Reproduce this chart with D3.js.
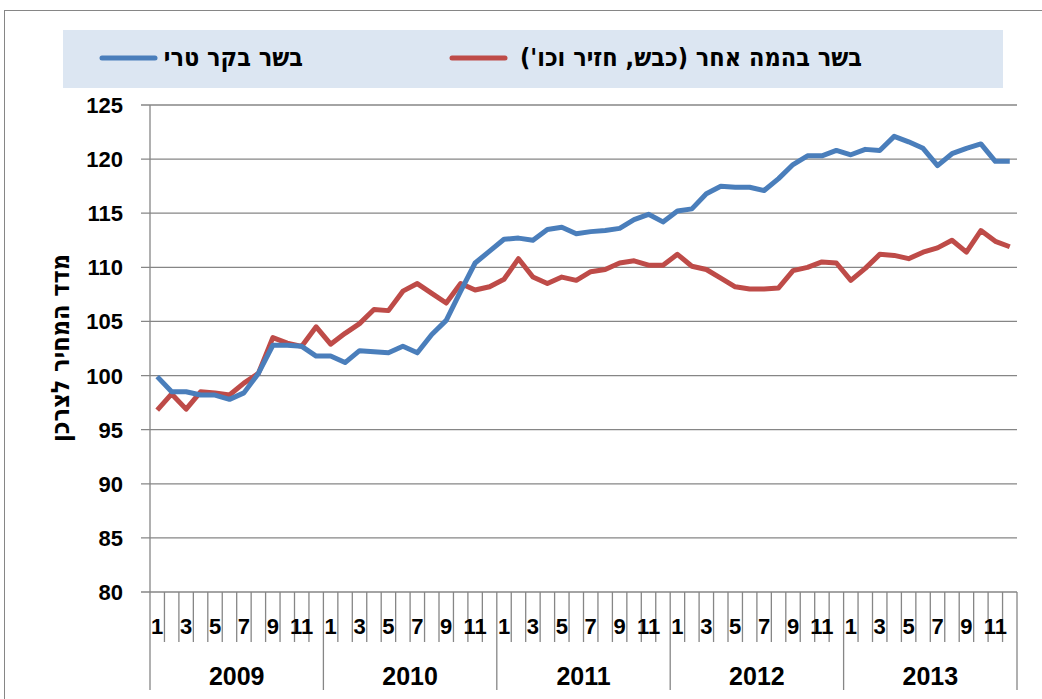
<html>
<head>
<meta charset="utf-8">
<script src="https://d3js.org/d3.v7.min.js"></script>
<style>
  body { margin: 0; background: #fff; }
  text { font-family: "Liberation Sans", Arial, sans-serif; font-weight: bold; fill: #000; }
  text.heb { font-family: "DejaVu Sans Condensed", "DejaVu Sans", sans-serif; font-stretch: condensed; }
</style>
</head>
<body>
<script>
// monthly CPI index, Jan 2009 .. Dec 2013
var years = ["2009", "2010", "2011", "2012", "2013"];
var monthLabels = ["1", "", "3", "", "5", "", "7", "", "9", "", "11", ""];
var yTicks = [80, 85, 90, 95, 100, 105, 110, 115, 120, 125];

var beef = [
  99.9, 98.5, 98.5, 98.2, 98.2, 97.8, 98.4, 100.2, 102.8, 102.8, 102.7, 101.8,
  101.8, 101.2, 102.3, 102.2, 102.1, 102.7, 102.1, 103.8, 105.1, 107.8, 110.4, 111.5,
  112.6, 112.7, 112.5, 113.5, 113.7, 113.1, 113.3, 113.4, 113.6, 114.4, 114.9, 114.2,
  115.2, 115.4, 116.8, 117.5, 117.4, 117.4, 117.1, 118.2, 119.5, 120.3, 120.3, 120.8,
  120.4, 120.9, 120.8, 122.1, 121.6, 121.0, 119.4, 120.5, 121.0, 121.4, 119.8, 119.8
];
var otherMeat = [
  96.8, 98.3, 96.9, 98.5, 98.4, 98.2, 99.3, 100.2, 103.5, 103.0, 102.7, 104.5,
  102.9, 103.9, 104.8, 106.1, 106.0, 107.8, 108.5, 107.6, 106.7, 108.5, 107.9, 108.2,
  108.9, 110.8, 109.1, 108.5, 109.1, 108.8, 109.6, 109.8, 110.4, 110.6, 110.2, 110.2,
  111.2, 110.1, 109.8, 109.0, 108.2, 108.0, 108.0, 108.1, 109.7, 110.0, 110.5, 110.4,
  108.8, 109.9, 111.2, 111.1, 110.8, 111.4, 111.8, 112.5, 111.4, 113.4, 112.4, 111.9
];
var seriesNames = ["בשר בקר טרי", "בשר בהמה אחר (כבש, חזיר וכו')"];
var seriesColors = ["#4a7ebb", "#be4b48"];
var yTitle = "מדד המחיר לצרכן";

var width = 1042, height = 699;
var mLeft = 150, mRight = 1017, mTop = 105, mBottom = 592;
var gridColor = "#868686";

var svg = d3.select("body").append("svg")
  .attr("width", width)
  .attr("height", height);

// outer chart frame
svg.append("rect")
  .attr("x", 4.5).attr("y", 10.5)
  .attr("width", 1200).attr("height", 900)
  .attr("fill", "#fff")
  .attr("stroke", gridColor);

var n = beef.length;
var x = d3.scaleBand().domain(d3.range(n)).range([mLeft, mRight]);
var y = d3.scaleLinear().domain([80, 125]).range([mBottom, mTop]);
var cx = function (i) { return x(i) + x.bandwidth() / 2; };

// gridlines
svg.append("g").selectAll("line")
  .data(yTicks)
  .enter().append("line")
  .attr("x1", mLeft - 9).attr("x2", mRight)
  .attr("y1", function (d) { return y(d); })
  .attr("y2", function (d) { return y(d); })
  .attr("stroke", gridColor)
  .attr("stroke-width", 1.3);

svg.append("line")
  .attr("x1", mLeft).attr("x2", mLeft)
  .attr("y1", mTop).attr("y2", mBottom)
  .attr("stroke", gridColor).attr("stroke-width", 1.3);

svg.append("g").selectAll("text")
  .data(yTicks)
  .enter().append("text")
  .attr("x", 123)
  .attr("y", function (d) { return y(d) + 8; })
  .attr("text-anchor", "end")
  .style("font-size", "22px")
  .text(function (d) { return d; });

// month ticks and year separators
var bounds = d3.range(n + 1);
svg.append("g").selectAll("line")
  .data(bounds)
  .enter().append("line")
  .attr("x1", function (i) { return mLeft + i * x.step(); })
  .attr("x2", function (i) { return mLeft + i * x.step(); })
  .attr("y1", mBottom)
  .attr("y2", function (i) { return i % 12 === 0 ? 690 : 642; })
  .attr("stroke", gridColor)
  .attr("stroke-width", 1.3);

svg.append("g").selectAll("text")
  .data(d3.range(n))
  .enter().append("text")
  .attr("x", cx)
  .attr("y", 634)
  .attr("text-anchor", "middle")
  .style("font-size", "22px")
  .text(function (i) { return monthLabels[i % 12]; });

svg.append("g").selectAll("text")
  .data(years)
  .enter().append("text")
  .attr("x", function (d, k) { return mLeft + (k * 12 + 6) * x.step(); })
  .attr("y", 685)
  .attr("text-anchor", "middle")
  .style("font-size", "25px")
  .text(function (d) { return d; });

// y title
svg.append("text")
  .attr("class", "heb")
  .attr("transform", "translate(69,348) rotate(-90)")
  .attr("text-anchor", "middle")
  .style("font-size", "25px")
  .text("\u200F" + yTitle + "\u200F");

// lines
var line = d3.line()
  .x(function (d, i) { return cx(i); })
  .y(function (d) { return y(d); });

[otherMeat, beef].forEach(function (s, k) {
  svg.append("path")
    .datum(s)
    .attr("d", line)
    .attr("fill", "none")
    .attr("stroke", seriesColors[1 - k])
    .attr("stroke-width", 5)
    .attr("stroke-linejoin", "round");
});

// legend
svg.append("rect")
  .attr("x", 63).attr("y", 30)
  .attr("width", 940).attr("height", 58)
  .attr("fill", "#dce6f2");

var legendItems = [
  { x1: 102, x2: 155, tx: 303 },
  { x1: 452, x2: 505, tx: 862 }
];
legendItems.forEach(function (it, k) {
  svg.append("line")
    .attr("x1", it.x1).attr("x2", it.x2)
    .attr("y1", 58).attr("y2", 58)
    .attr("stroke", seriesColors[k])
    .attr("stroke-width", 5)
    .attr("stroke-linecap", "round");
  svg.append("text")
    .attr("class", "heb")
    .attr("x", it.tx)
    .attr("y", 66)
    .attr("text-anchor", "end")
    .style("font-size", "25px")
    .text("\u200F" + seriesNames[k] + "\u200F");
});
</script>
</body>
</html>
